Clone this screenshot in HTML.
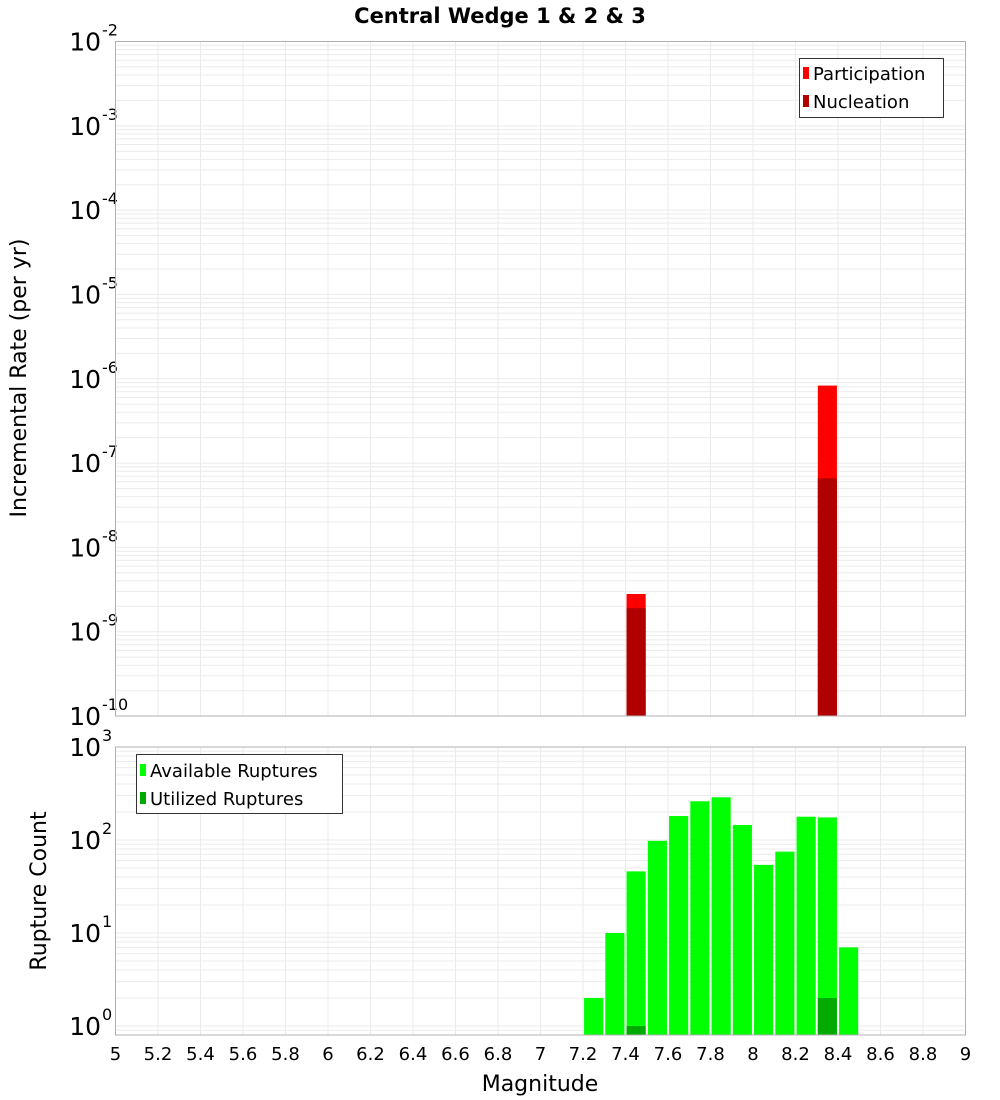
<!DOCTYPE html>
<html><head><meta charset="utf-8"><style>
body{margin:0;background:#fff;}
svg{display:block;font-family:"DejaVu Sans","Liberation Sans",sans-serif;}
</style></head><body>
<svg id="c" width="1000" height="1100" viewBox="0 0 1000 1100" xmlns="http://www.w3.org/2000/svg">
<text x="500" y="23" text-anchor="middle" font-size="21" font-weight="bold">Central Wedge 1 &amp; 2 &amp; 3</text>
<text transform="translate(26,378) rotate(-90)" text-anchor="middle" font-size="22">Incremental Rate (per yr)</text>
<text transform="translate(46,891) rotate(-90)" text-anchor="middle" font-size="22">Rupture Count</text>
<text x="540" y="1091" text-anchor="middle" font-size="22">Magnitude</text>
<g id="topPanel"></g><g id="botPanel"></g>
</svg>
<script>
// data
const binCenters=[7.25,7.35,7.45,7.55,7.65,7.75,7.85,7.95,8.05,8.15,8.25,8.35,8.45];
const available=[2,10,46,98,181,261,288,145,54,75,178,175,7];
const utilized=[0,0,1,0,0,0,0,0,0,0,0,2,0];
const rateMags=[7.45,8.35];
const participation=[2.8e-9,8.3e-7];
const nucleation=[1.9e-9,6.6e-8];
const xTicks=[5,5.2,5.4,5.6,5.8,6,6.2,6.4,6.6,6.8,7,7.2,7.4,7.6,7.8,8,8.2,8.4,8.6,8.8,9];
const topExps=[-10,-9,-8,-7,-6,-5,-4,-3,-2];
const botExps=[0,1,2,3];

const NS="http://www.w3.org/2000/svg";
const L=115.5,R=965.5;
const X=v=>L+(v-5)*(R-L)/4;
const T0=41.5,T1=716;
const Yt=v=>T1-(Math.log10(v)+10)*(T1-T0)/8;
const B0=747,B1=1035;
const Yb=v=>1026-Math.log10(v)*93;
function mk(p,tag,a,txt){const e=document.createElementNS(NS,tag);for(const k in a)e.setAttribute(k,a[k]);if(txt!==undefined)e.textContent=txt;p.appendChild(e);return e;}
function panel(g,y0,y1,yf,exps,lo,hi){
  const grid=mk(g,'g',{});
  
  
  xTicks.forEach(t=>mk(grid,'line',{x1:X(t),x2:X(t),y1:y0,y2:y1,stroke:'#ebebeb','stroke-width':1}));
  for(let e=lo;e<hi;e++)for(let m=1;m<10;m++){const y=yf(m*Math.pow(10,e));if(y>=y0&&y<=y1)mk(grid,'line',{x1:L,x2:R,y1:y,y2:y,stroke:'#ebebeb','stroke-width':1});}
  exps.forEach(e=>{const y=yf(Math.pow(10,e));
    const t=mk(g,'text',{x:101,y:y+9,'text-anchor':'end','font-size':25});
    
    
    t.textContent='10';
    const s=mk(g,'text',{x:102,y:y-6,'font-size':16},String(e));
    
    
  });
}
const gTop=document.getElementById('topPanel'),gBot=document.getElementById('botPanel');
panel(gTop,T0,T1,Yt,topExps,-10,-2);
panel(gBot,B0,B1,Yb,botExps,-1,3);
const bw=0.09;
rateMags.forEach((m,i)=>{
  const x=X(m-bw/2),w=X(m+bw/2)-x;
  const p=mk(gTop,'rect',{x:x,y:Yt(participation[i]),width:w,height:T1-Yt(participation[i]),fill:'#ff0000'});
  
  
  const n=mk(gTop,'rect',{x:x,y:Yt(nucleation[i]),width:w,height:T1-Yt(nucleation[i]),fill:'#b00000'});
  
  
});
binCenters.forEach((m,i)=>{
  const x=X(m-bw/2),w=X(m+bw/2)-x;
  if(available[i]>0){const a=mk(gBot,'rect',{x:x,y:Yb(available[i]),width:w,height:B1-Yb(available[i]),fill:'#00ff00'});
    
    }
  if(utilized[i]>0){const u=mk(gBot,'rect',{x:x,y:Yb(utilized[i]),width:w,height:B1-Yb(utilized[i]),fill:'#00aa00'});
    
    }
});
const tf=mk(gTop,'rect',{x:L,y:T0,width:R-L,height:T1-T0,fill:'none',stroke:'#b0b0b0'});


const bf=mk(gBot,'rect',{x:L,y:B0,width:R-L,height:B1-B0,fill:'none',stroke:'#b0b0b0'});


xTicks.forEach(t=>{const e=mk(gBot,'text',{x:X(t),y:1060,'text-anchor':'middle','font-size':18},String(t));
  
  });
// legends
const lg1=mk(gTop,'g',{});


mk(lg1,'rect',{x:799.5,y:58.5,width:144,height:59,fill:'#fff',stroke:'#333'});
mk(lg1,'rect',{x:803,y:67,width:6,height:12,fill:'#ff0000'});
mk(lg1,'text',{x:813,y:80,'font-size':18},'Participation');
mk(lg1,'rect',{x:803,y:95,width:6,height:12,fill:'#b00000'});
mk(lg1,'text',{x:813,y:108,'font-size':18},'Nucleation');
const lg2=mk(gBot,'g',{});


mk(lg2,'rect',{x:136.5,y:754.5,width:206,height:59,fill:'#fff',stroke:'#333'});
mk(lg2,'rect',{x:140,y:764,width:6,height:12,fill:'#00ff00'});
mk(lg2,'text',{x:150,y:777,'font-size':18},'Available Ruptures');
mk(lg2,'rect',{x:140,y:792,width:6,height:12,fill:'#00aa00'});
mk(lg2,'text',{x:150,y:805,'font-size':18},'Utilized Ruptures');
</script>
</body></html>
